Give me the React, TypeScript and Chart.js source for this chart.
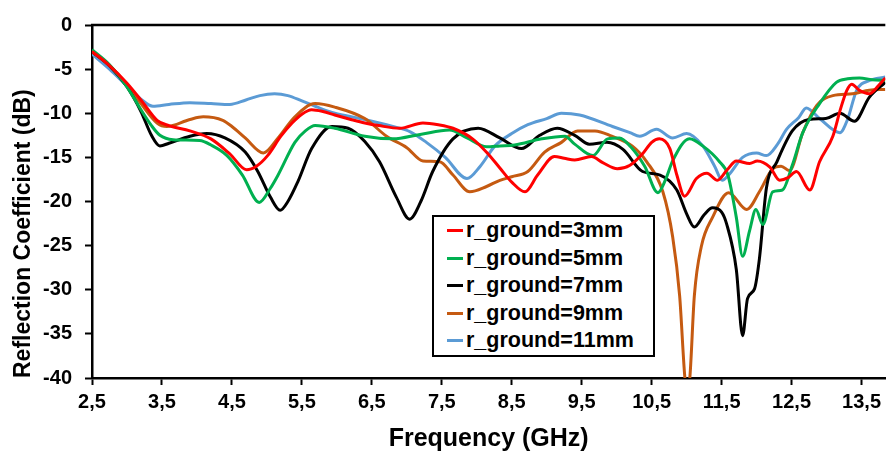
import React, { useEffect, useRef } from "react";
import { Chart, registerables } from "chart.js";

Chart.register(...registerables);

const FONT = '"Liberation Sans", Arial, Helvetica, sans-serif';

const xTicks = [2.5, 3.5, 4.5, 5.5, 6.5, 7.5, 8.5, 9.5, 10.5, 11.5, 12.5, 13.5];
const xMin = 2.5;
const xMax = 13.84;
const yMin = -40;
const yMax = 0;
const yStep = 5;

const xTitle = "Frequency (GHz)";
const yTitle = "Reflection Coefficient (dB)";

const labels = ["r_ground=3mm", "r_ground=5mm", "r_ground=7mm", "r_ground=9mm", "r_ground=11mm"];
const colors = ["#FF0000", "#00B050", "#000000", "#C55A11", "#5B9BD5"];

// r_ground = 3mm
const f3 = [2.5, 2.75, 3.0, 3.2, 3.43, 3.6, 3.9, 4.2, 4.47, 4.71, 4.85, 5.01, 5.2, 5.36, 5.5, 5.64, 5.8, 5.97, 6.2, 6.4, 6.6, 6.9, 7.23, 7.45, 7.66, 7.94, 8.15, 8.33, 8.5, 8.69, 8.87, 9.11, 9.25, 9.4, 9.64, 9.8, 10.01, 10.19, 10.37, 10.5, 10.61, 10.76, 10.86, 10.97, 11.14, 11.29, 11.44, 11.58, 11.71, 11.9, 12.01, 12.19, 12.33, 12.45, 12.57, 12.76, 12.9, 13.09, 13.2, 13.29, 13.36, 13.47, 13.61, 13.75, 13.84];
const v3 = [-3.0, -4.6, -6.6, -8.5, -10.8, -11.4, -12.0, -12.9, -14.6, -16.4, -16.0, -14.8, -12.6, -11.1, -10.1, -9.6, -9.8, -10.2, -10.7, -11.1, -11.4, -11.7, -11.1, -11.3, -11.7, -12.9, -14.5, -16.2, -17.8, -18.9, -17.0, -14.9, -15.1, -15.3, -14.9, -15.6, -16.3, -15.9, -14.6, -13.3, -12.9, -14.0, -17.0, -19.4, -17.4, -16.8, -17.6, -16.4, -15.4, -15.7, -15.4, -16.1, -17.6, -17.3, -16.6, -18.7, -15.5, -12.6, -9.5, -7.4, -6.7, -7.4, -7.8, -6.8, -6.0];

// r_ground = 5mm
const f5 = [2.5, 2.75, 3.0, 3.2, 3.35, 3.47, 3.66, 4.04, 4.2, 4.43, 4.65, 4.89, 5.05, 5.16, 5.4, 5.55, 5.69, 5.97, 6.4, 6.8, 7.19, 7.61, 7.86, 8.14, 8.33, 8.54, 8.93, 9.26, 9.4, 9.66, 9.87, 10.04, 10.2, 10.4, 10.59, 10.7, 10.8, 11.04, 11.23, 11.47, 11.59, 11.71, 11.8, 11.9, 11.99, 12.09, 12.23, 12.37, 12.51, 12.66, 12.9, 13.14, 13.3, 13.47, 13.65, 13.84];
const v5 = [-2.8, -4.5, -7.0, -9.6, -11.4, -12.5, -13.0, -13.1, -13.6, -14.8, -17.0, -20.1, -18.5, -17.0, -13.3, -12.0, -11.4, -11.7, -12.6, -12.9, -12.4, -11.9, -12.8, -13.8, -13.7, -13.6, -12.9, -12.6, -13.5, -14.8, -12.9, -12.8, -13.8, -16.0, -19.0, -17.5, -15.4, -12.9, -13.7, -15.5, -17.0, -21.8, -26.2, -23.3, -20.9, -22.6, -18.9, -18.7, -15.9, -12.2, -8.9, -6.5, -6.1, -6.0, -6.2, -6.3];

// r_ground = 7mm
const f7 = [2.5, 2.75, 3.0, 3.2, 3.35, 3.47, 3.6, 3.9, 4.14, 4.4, 4.69, 4.87, 5.05, 5.19, 5.3, 5.44, 5.64, 5.93, 6.16, 6.4, 6.61, 6.85, 7.04, 7.2, 7.37, 7.66, 8.02, 8.33, 8.64, 8.9, 9.15, 9.4, 9.61, 9.86, 10.09, 10.37, 10.62, 10.86, 11.0, 11.11, 11.25, 11.37, 11.5, 11.57, 11.71, 11.8, 11.87, 11.97, 12.04, 12.14, 12.29, 12.51, 12.75, 12.99, 13.19, 13.4, 13.61, 13.84];
const v7 = [-3.0, -4.6, -7.0, -9.8, -12.5, -13.7, -13.4, -12.6, -12.3, -12.8, -14.4, -16.6, -19.5, -21.0, -20.0, -17.8, -14.0, -11.5, -11.7, -13.2, -15.5, -19.5, -22.0, -20.0, -16.6, -12.9, -11.7, -12.8, -14.0, -12.5, -11.7, -12.5, -13.5, -13.3, -14.1, -16.6, -17.0, -18.7, -21.4, -22.9, -21.5, -20.7, -21.2, -22.5, -27.7, -35.2, -31.0, -29.9, -26.5, -18.5, -15.5, -12.0, -10.7, -10.6, -10.0, -10.9, -8.2, -6.5];

// r_ground = 9mm
const f9 = [2.5, 2.75, 3.0, 3.2, 3.43, 3.57, 3.9, 4.09, 4.37, 4.5, 4.69, 4.95, 5.16, 5.4, 5.69, 5.97, 6.4, 6.71, 7.0, 7.23, 7.47, 7.66, 7.9, 8.14, 8.33, 8.5, 8.73, 8.97, 9.21, 9.44, 9.69, 9.93, 10.22, 10.43, 10.66, 10.8, 10.9, 10.97, 11.01, 11.05, 11.11, 11.21, 11.37, 11.6, 11.86, 12.04, 12.23, 12.35, 12.47, 12.66, 12.86, 13.09, 13.37, 13.61, 13.84];
const v9 = [-3.0, -4.6, -6.8, -8.9, -11.1, -11.5, -10.7, -10.4, -10.8, -11.5, -12.8, -14.5, -12.8, -10.4, -8.9, -9.3, -10.6, -12.6, -13.9, -15.4, -15.5, -17.0, -18.9, -18.3, -17.6, -17.2, -16.6, -14.4, -13.3, -12.0, -12.0, -12.6, -13.7, -15.5, -18.9, -24.0, -30.7, -39.5, -42.5, -39.5, -30.7, -25.1, -21.8, -19.0, -20.9, -18.9, -16.3, -16.0, -16.5, -12.2, -9.1, -8.0, -7.8, -7.4, -7.3];

// r_ground = 11mm
const f11 = [2.5, 2.75, 3.0, 3.2, 3.37, 3.6, 3.9, 4.2, 4.47, 4.7, 4.9, 5.11, 5.3, 5.5, 5.75, 5.97, 6.33, 6.8, 7.05, 7.28, 7.55, 7.86, 8.05, 8.26, 8.5, 8.73, 9.0, 9.21, 9.47, 9.94, 10.19, 10.33, 10.57, 10.8, 11.0, 11.23, 11.4, 11.51, 11.6, 11.8, 12.0, 12.14, 12.3, 12.43, 12.6, 12.71, 12.9, 13.19, 13.3, 13.43, 13.61, 13.84];
const v11 = [-3.3, -5.0, -6.9, -8.4, -9.2, -9.0, -8.8, -8.9, -9.0, -8.5, -8.0, -7.8, -8.0, -8.6, -9.4, -10.0, -10.6, -11.5, -12.1, -13.3, -15.0, -17.4, -16.0, -13.7, -12.3, -11.3, -10.6, -10.0, -10.2, -11.5, -12.2, -12.6, -11.8, -12.8, -12.3, -13.7, -16.0, -17.6, -17.0, -15.0, -14.5, -14.8, -13.5, -11.8, -10.5, -9.4, -10.6, -12.2, -10.7, -7.4, -6.3, -5.9];

const seriesX = [f3, f5, f7, f9, f11];
const seriesY = [v3, v5, v7, v9, v11];

export default function App() {
  const canvasRef = useRef<HTMLCanvasElement | null>(null);

  useEffect(() => {
    const canvas = canvasRef.current;
    if (!canvas) return;

    const topFrame = {
      id: "topFrame",
      afterDatasetsDraw(chart: any) {
        const { ctx, chartArea } = chart;
        ctx.save();
        ctx.strokeStyle = "#000";
        ctx.lineWidth = 2.5;
        ctx.beginPath();
        ctx.moveTo(chartArea.left - 1, chartArea.top);
        ctx.lineTo(chartArea.right, chartArea.top);
        ctx.stroke();
        ctx.restore();
      },
    };

    const datasets = labels.map((label, i) => ({
      label,
      data: seriesX[i].map((x, j) => ({ x, y: seriesY[i][j] })),
      borderColor: colors[i],
      backgroundColor: colors[i],
      borderWidth: 3,
      pointRadius: 0,
      fill: false,
      cubicInterpolationMode: "monotone" as const,
    }));

    const chart = new Chart(canvas, {
      type: "line",
      data: { datasets },
      options: {
        animation: false,
        responsive: false,
        devicePixelRatio: 1,
        layout: { padding: { top: 16, right: 0, left: 0, bottom: 0 } },
        plugins: {
          legend: { display: false },
          tooltip: { enabled: false },
        },
        scales: {
          x: {
            type: "linear",
            min: xMin,
            max: xMax,
            afterBuildTicks: (scale: any) => {
              scale.ticks = xTicks.map((v) => ({ value: v }));
            },
            afterFit: (scale: any) => {
              scale.height = 79;
            },
            border: { display: true, color: "#000", width: 2.5 },
            grid: {
              display: true,
              drawOnChartArea: false,
              drawTicks: true,
              tickLength: 7,
              tickWidth: 2,
              tickColor: "#000",
              color: "#000",
            },
            ticks: {
              autoSkip: false,
              maxRotation: 0,
              padding: 5,
              color: "#000",
              font: { family: FONT, size: 20, weight: "bold" },
              callback: (v: any) => Number(v).toFixed(1).replace(".", ","),
            },
            title: {
              display: true,
              text: xTitle,
              color: "#000",
              font: { family: FONT, size: 25, weight: "bold" },
              padding: { top: 0, bottom: 3 },
            },
          },
          y: {
            type: "linear",
            min: yMin,
            max: yMax,
            afterFit: (scale: any) => {
              scale.width = 92;
            },
            border: { display: true, color: "#000", width: 2.5 },
            grid: {
              display: true,
              drawOnChartArea: false,
              drawTicks: true,
              tickLength: 7,
              tickWidth: 2,
              tickColor: "#000",
              color: "#000",
            },
            ticks: {
              stepSize: yStep,
              padding: 13,
              color: "#000",
              font: { family: FONT, size: 20, weight: "bold" },
              callback: (v: any) => String(v),
            },
            title: {
              display: true,
              text: yTitle,
              align: "start",
              color: "#000",
              font: { family: FONT, size: 23, weight: "bold" },
              padding: { top: 10, bottom: 0 },
            },
          },
        },
      },
      plugins: [topFrame],
    } as any);

    return () => {
      chart.destroy();
    };
  }, []);

  return (
    <div style={{ position: "absolute", left: 0, top: 0, width: 886, height: 457, background: "#fff" }}>
      <canvas ref={canvasRef} width={886} height={457} style={{ display: "block", width: 886, height: 457 }} />
      <div
        style={{
          position: "absolute",
          left: 432,
          top: 215,
          width: 223,
          boxSizing: "border-box",
          border: "2px solid #000",
          background: "#fff",
          fontFamily: FONT,
          fontWeight: "bold",
          fontSize: 21.5,
          color: "#000",
        }}
      >
        {labels.map((label, i) => (
          <div key={label} style={{ display: "flex", alignItems: "center", height: 27.5, whiteSpace: "nowrap" }}>
            <span style={{ display: "inline-block", width: 16, height: 3, background: colors[i], marginLeft: 13, marginRight: 3 }} />
            <span>{label}</span>
          </div>
        ))}
      </div>
    </div>
  );
}
